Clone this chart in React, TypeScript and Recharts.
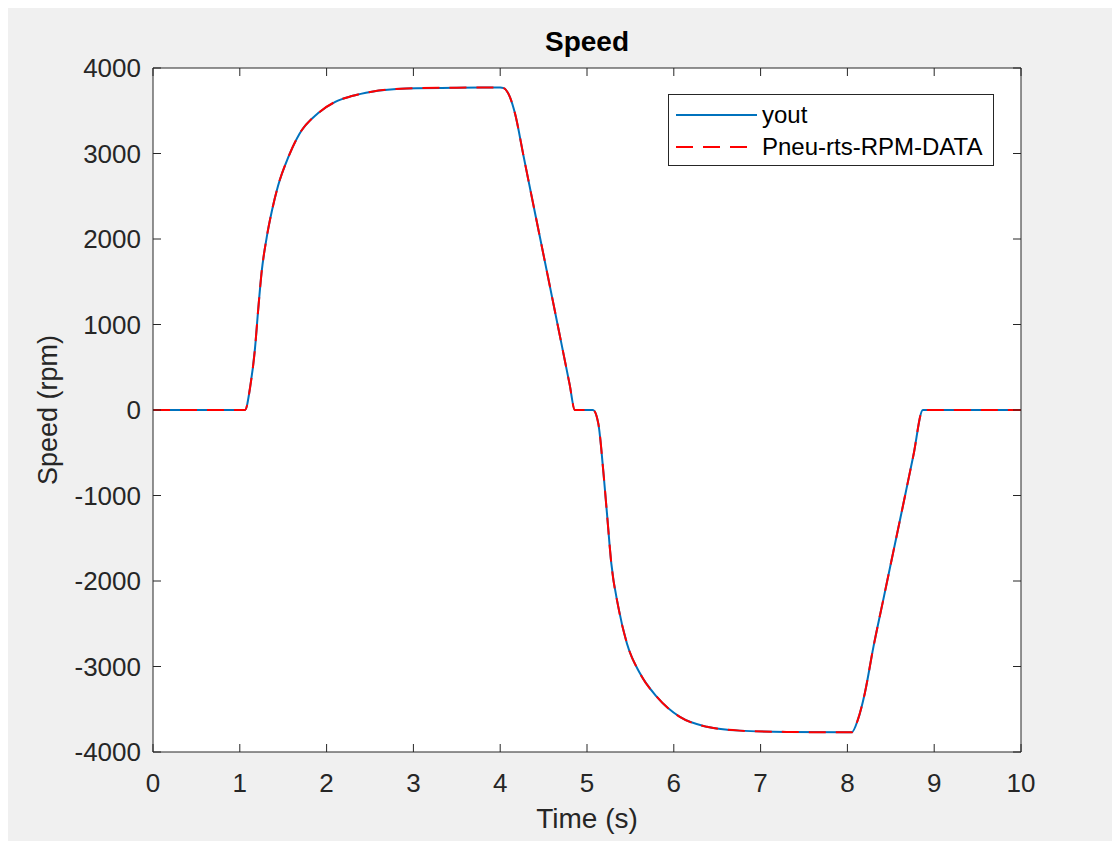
import { ComposedChart, Line, XAxis, YAxis, CartesianGrid, Legend, Label } from 'recharts'

// sample times (s)
const timeSec = [
  0, 1.0, 1.06, 1.12, 1.175, 1.21, 1.25, 1.31, 1.37, 1.44, 1.56, 1.69, 1.9, 2.1, 2.29, 2.52, 2.92, 3.5, 4.0,
  4.04, 4.11, 4.17, 4.27, 4.4, 4.54, 4.69, 4.8, 4.86,
  5.07, 5.13, 5.19, 5.23, 5.28, 5.36, 5.46, 5.61, 5.8, 6.07, 6.38, 6.76, 7.3, 8.0,
  8.05, 8.12, 8.2, 8.3, 8.41, 8.53, 8.64, 8.76, 8.87, 10,
]

const youtRpm = [
  0, 0, 0, 273, 720, 1150, 1600, 2020, 2330, 2620, 2960, 3235, 3470, 3605, 3672, 3723, 3760, 3770, 3772,
  3765, 3665, 3470, 2965, 2310, 1610, 855, 300, 0,
  0, -156, -740, -1210, -1795, -2300, -2730, -3080, -3350, -3590, -3705, -3750, -3765, -3770,
  -3770, -3625, -3315, -2770, -2235, -1653, -1120, -533, 0, 0,
]

const pneuRpm = [
  0, 0, 0, 273, 720, 1150, 1600, 2020, 2330, 2620, 2960, 3235, 3470, 3605, 3672, 3723, 3760, 3770, 3772,
  3765, 3665, 3470, 2965, 2310, 1610, 855, 300, 0,
  0, -156, -740, -1210, -1795, -2300, -2730, -3080, -3350, -3590, -3705, -3750, -3765, -3770,
  -3770, -3625, -3315, -2770, -2235, -1653, -1120, -533, 0, 0,
]

const xTicks = [0, 1, 2, 3, 4, 5, 6, 7, 8, 9, 10]
const yTicks = [-4000, -3000, -2000, -1000, 0, 1000, 2000, 3000, 4000]
const legendOrder = ['yout', 'pneu']

const COLORS = {
  bg: '#f0f0f0',
  plot: '#ffffff',
  axis: '#262626',
  text: '#000000',
  yout: '#0072BD',
  pneu: '#FF0000',
} as const

const FONT = '"Liberation Sans", Arial, Helvetica, sans-serif'
const DASH = '17 10'

const data = timeSec.map((t, i) => ({ t, yout: youtRpm[i], pneu: pneuRpm[i] }))

function SpeedLegend({ payload }: any) {
  const items = [...(payload || [])].sort(
    (a: any, b: any) => legendOrder.indexOf(a.dataKey) - legendOrder.indexOf(b.dataKey),
  )
  return (
    <div
      style={{
        width: 326,
        height: 72,
        boxSizing: 'border-box',
        border: `1px solid ${COLORS.axis}`,
        background: COLORS.plot,
        paddingTop: 4,
        fontFamily: FONT,
        fontSize: 24,
        color: COLORS.text,
      }}
    >
      {items.map((entry: any) => (
        <div key={entry.value} style={{ display: 'flex', alignItems: 'center', height: 32 }}>
          <svg width={93} height={32} style={{ flex: 'none' }}>
            <line
              x1={7}
              x2={88}
              y1={16}
              y2={16}
              stroke={entry.color}
              strokeWidth={2}
              strokeDasharray={entry.dataKey === 'pneu' ? DASH : undefined}
            />
          </svg>
          <span style={{ whiteSpace: 'nowrap' }}>{entry.value}</span>
        </div>
      ))}
    </div>
  )
}

const renderYTitle = ({ viewBox }: any) => {
  const cx = 49
  const cy = viewBox.y + viewBox.height / 2
  return (
    <text
      x={cx}
      y={cy}
      transform={`rotate(-90 ${cx} ${cy})`}
      textAnchor="middle"
      fontFamily={FONT}
      fontSize={27}
      fill={COLORS.axis}
    >
      Speed (rpm)
    </text>
  )
}

export default function App() {
  const tickStyle = { fill: COLORS.axis, fontSize: 26, fontFamily: FONT }
  const lineStyle = { stroke: COLORS.axis, strokeWidth: 1 }

  return (
    <div style={{ width: 1112, height: 833, background: COLORS.bg, position: 'relative' }}>
      <ComposedChart
        width={1112}
        height={833}
        data={data}
        margin={{ top: 59, right: 98, bottom: 9, left: 65 }}
      >
        <CartesianGrid fill={COLORS.plot} stroke="none" />
        <XAxis
          dataKey="t"
          type="number"
          domain={[0, 10]}
          ticks={xTicks}
          interval={0}
          allowDataOverflow
          height={80}
          tick={tickStyle}
          tickSize={-8}
          tickMargin={30}
          axisLine={lineStyle}
          tickLine={lineStyle}
        >
          <Label
            value="Time (s)"
            position="insideBottom"
            offset={4}
            fontSize={28}
            fontFamily={FONT}
            fill={COLORS.axis}
          />
        </XAxis>
        <XAxis
          xAxisId="top"
          dataKey="t"
          orientation="top"
          type="number"
          domain={[0, 10]}
          ticks={xTicks}
          interval={0}
          allowDataOverflow
          height={1}
          tickSize={-8}
          tickFormatter={() => ''}
          axisLine={lineStyle}
          tickLine={lineStyle}
        >
          <Label
            value="Speed"
            position="top"
            offset={16}
            fontSize={28}
            fontWeight="bold"
            fontFamily={FONT}
            fill={COLORS.text}
          />
        </XAxis>
        <YAxis
          type="number"
          domain={[-4000, 4000]}
          ticks={yTicks}
          interval={0}
          allowDataOverflow
          width={80}
          tick={tickStyle}
          tickSize={-8}
          tickMargin={20}
          axisLine={lineStyle}
          tickLine={lineStyle}
          label={{ content: renderYTitle }}
        />
        <YAxis
          yAxisId="right"
          orientation="right"
          type="number"
          domain={[-4000, 4000]}
          ticks={yTicks}
          interval={0}
          allowDataOverflow
          width={1}
          tickSize={-8}
          tickFormatter={() => ''}
          axisLine={lineStyle}
          tickLine={lineStyle}
        />
        <Legend
          layout="vertical"
          align="center"
          verticalAlign="middle"
          content={<SpeedLegend />}
          wrapperStyle={{ left: 660, top: 86, width: 326, height: 72 }}
        />
        <Line
          name="yout"
          dataKey="yout"
          type="monotone"
          stroke={COLORS.yout}
          strokeWidth={2}
          dot={false}
          activeDot={false}
          isAnimationActive={false}
        />
        <Line
          name="Pneu-rts-RPM-DATA"
          dataKey="pneu"
          xAxisId="top"
          yAxisId="right"
          type="monotone"
          stroke={COLORS.pneu}
          strokeWidth={2}
          strokeDasharray={DASH}
          dot={false}
          activeDot={false}
          isAnimationActive={false}
        />
      </ComposedChart>
    </div>
  )
}
